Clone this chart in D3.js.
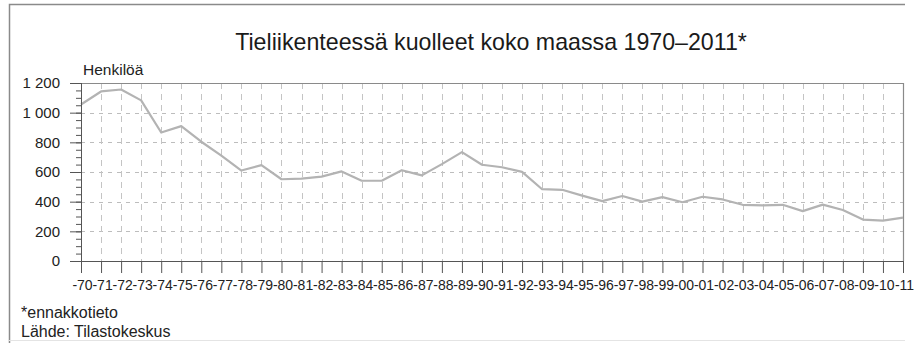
<!DOCTYPE html>
<html>
<head>
<meta charset="utf-8">
<script src="https://cdn.jsdelivr.net/npm/d3@7"></script>
<style>
  body { margin: 0; background: #fff; }
  svg { display: block; font-family: "Liberation Sans", Arial, sans-serif; }
</style>
</head>
<body>
<div id="chart"></div>
<script>
// Tieliikenteessä kuolleet, henkilöä
const years = d3.range(1970, 2012)
const deaths = [1055, 1143, 1156, 1083, 866, 909, 804, 710, 610, 646,
    551, 555, 569, 604, 541, 541, 612, 577, 653, 734,
    649, 632, 601, 484, 480, 441, 404, 438, 400, 431,
    396, 433, 415, 379, 375, 379, 336, 380, 344, 279,
    272, 292]
const yTicks = [0, 200, 400, 600, 800, 1000, 1200]
const yMinor = d3.range(0, 1201, 50)

const width = 915, height = 343
const plotLeft = 81, plotRight = 903, plotTop = 83, plotBottom = 261

const svg = d3.select('#chart').append('svg')
    .attr('width', width)
    .attr('height', height)

// outer frame
svg.append('path')
    .attr('d', 'M9.5,343 V4.5 H905')
    .attr('fill', 'none')
    .attr('stroke', '#8a8a8a')
    .attr('stroke-width', 1.5)
svg.append('line')
    .attr('x1', 9).attr('x2', 905).attr('y1', 340.5).attr('y2', 340.5)
    .attr('stroke', '#e4e4e4')

const x = d3.scaleLinear().domain([1970, 2011]).range([plotLeft, plotRight])
const y = d3.scaleLinear().domain([0, 1200]).range([plotBottom, plotTop])

const fmt = d3.formatLocale({ decimal: ',', thousands: ' ', grouping: [3], currency: ['', ''] }).format(',d')

// grid
const grid = svg.append('g')
grid.selectAll('.hg').data(yTicks.filter(d => d > 0 && d < 1200))
    .enter().append('line')
    .attr('x1', plotLeft).attr('x2', plotRight)
    .attr('y1', d => Math.round(y(d)) + 0.5).attr('y2', d => Math.round(y(d)) + 0.5)
    .attr('stroke', '#bdbdbd')
    .attr('stroke-dasharray', '4,5')
grid.selectAll('.vg').data(years.slice(1, -1))
    .enter().append('line')
    .attr('x1', d => Math.round(x(d)) + 0.5).attr('x2', d => Math.round(x(d)) + 0.5)
    .attr('y1', plotTop).attr('y2', plotBottom)
    .attr('stroke', '#c4c4c4')
    .attr('stroke-dasharray', '6,5')

// plot frame top/right
svg.append('path')
    .attr('d', `M${plotLeft},${plotTop + 0.5} H${plotRight + 0.5} V${plotBottom}`)
    .attr('fill', 'none')
    .attr('stroke', '#8a8a8a')
    .attr('stroke-width', 1.2)

// line
svg.append('path')
    .datum(years.map((d, i) => [d, deaths[i]]))
    .attr('fill', 'none')
    .attr('stroke', '#b3b3b3')
    .attr('stroke-width', 2.2)
    .attr('stroke-linejoin', 'round')
    .attr('d', d3.line().x(d => x(d[0])).y(d => y(d[1])))

// y axis
const yAxis = svg.append('g')
    .attr('transform', `translate(${plotLeft},0)`)
    .call(d3.axisLeft(y).tickValues(yTicks).tickSize(11).tickPadding(10).tickFormat(fmt))
svg.append('g')
    .attr('transform', `translate(${plotLeft},0)`)
    .call(d3.axisLeft(y).tickValues(yMinor).tickSize(5).tickFormat(''))
    .call(g => g.select('.domain').remove())
    .selectAll('line').attr('stroke', '#555')
yAxis.selectAll('line, path').attr('stroke', '#555')
yAxis.select('.domain').attr('d', `M0.5,${plotTop}V${plotBottom}`)
yAxis.selectAll('text')
    .attr('font-size', 15)
    .attr('fill', '#222')

// x axis
const xAxis = svg.append('g')
    .attr('transform', `translate(0,${plotBottom})`)
    .call(d3.axisBottom(x).tickValues(years).tickSize(12).tickPadding(7)
        .tickFormat(d => '-' + String(d).slice(2)))
xAxis.selectAll('line, path').attr('stroke', '#555')
xAxis.select('.domain').attr('d', `M${plotLeft},0.5H${plotRight}`)
xAxis.selectAll('text')
    .attr('font-size', 14)
    .attr('fill', '#222')
    .attr('dx', 1)

// texts
svg.append('text')
    .attr('x', 491).attr('y', 50)
    .attr('text-anchor', 'middle')
    .attr('font-size', 23.2)
    .attr('fill', '#1a1a1a')
    .text('Tieliikenteessä kuolleet koko maassa 1970–2011*')
svg.append('text')
    .attr('x', 83).attr('y', 75)
    .attr('font-size', 15.5)
    .attr('fill', '#222')
    .text('Henkilöä')
svg.append('text')
    .attr('x', 21).attr('y', 318)
    .attr('font-size', 16)
    .attr('fill', '#222')
    .text('*ennakkotieto')
svg.append('text')
    .attr('x', 21).attr('y', 337)
    .attr('font-size', 16)
    .attr('fill', '#222')
    .text('Lähde: Tilastokeskus')
</script>
</body>
</html>
